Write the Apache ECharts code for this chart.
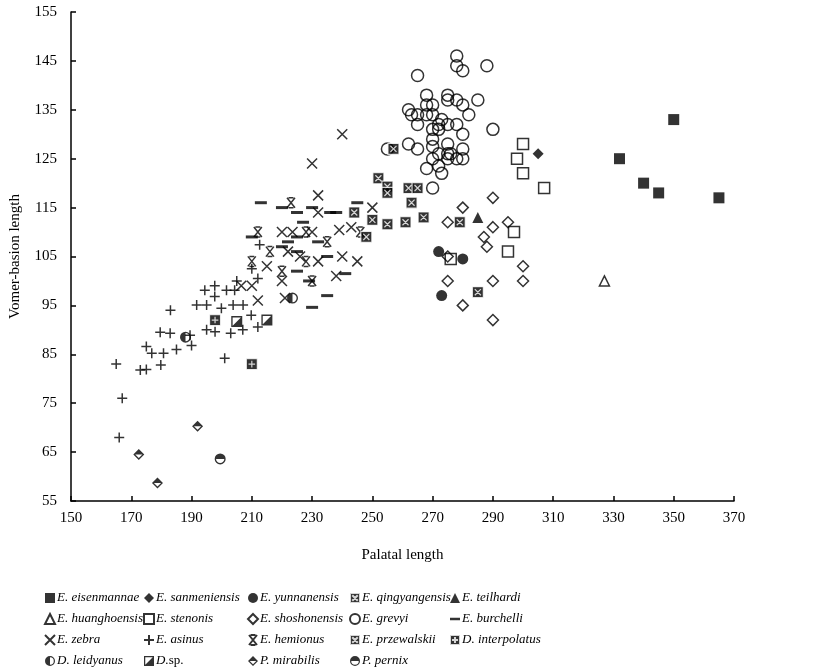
<!DOCTYPE html>
<html>
<head>
<meta charset="utf-8">
<script src="https://cdn.jsdelivr.net/npm/echarts@6/dist/echarts.min.js"></script>
<style>
html, body { margin: 0; padding: 0; background: #fff; }
#main { width: 829px; height: 672px; }
</style>
</head>
<body>
<div id="main"></div>
<script>
// values: [palatal length, vomer-basion length]
var eisenmannae = [[332, 125], [340, 120], [345, 118], [350, 133], [365, 117]];
var sanmeniensis = [[305, 126]];
var yunnanensis = [[272, 106], [280, 104.5], [273, 97]];
var qingyangensis = [[279, 112], [285, 97.7], [263, 116]];
var teilhardi = [[285, 113]];
var huanghoensis = [[327, 100]];
var stenonis = [[300, 128], [298, 125], [300, 122], [307, 119], [297, 110], [295, 106], [276, 104.5]];
var shoshonensis = [[290, 117], [280, 115], [275, 112], [290, 111], [295, 112], [287, 109], [288, 107],
    [275, 105], [300, 103], [275, 100], [290, 100], [300, 100], [280, 95], [290, 92]];
var grevyi = [[278, 146], [278, 144], [280, 143], [288, 144], [265, 142], [268, 138], [275, 138], [275, 137],
    [278, 137], [280, 136], [285, 137], [262, 135], [263, 134], [265, 134], [268, 136], [268, 134], [270, 136],
    [270, 134], [282, 134], [273, 133], [272, 132], [275, 132], [278, 132], [265, 132], [270, 131], [272, 131],
    [280, 130], [290, 131], [270, 129], [275, 128], [262, 128], [265, 127], [270, 127.5], [280, 127], [272, 126],
    [275, 126], [276, 126], [278, 125], [280, 125], [270, 125], [275, 125], [268, 123], [272, 123.5], [273, 122],
    [270, 119], [255, 127]];
var burchelli = [[213, 116], [245, 116], [220, 115], [230, 115], [236, 114], [238, 114], [225, 114], [227, 112],
    [210, 109], [222, 108], [225, 109], [232, 108], [220, 107], [225, 106], [235, 105], [241, 101.5], [225, 102],
    [229, 100], [235, 97], [230, 94.6]];
var zebra = [[240, 130], [230, 124], [232, 117.5], [250, 115], [232, 114], [239, 110.4], [243, 111], [220, 110],
    [223.5, 110], [230, 110], [222, 106], [232, 104], [240, 105], [245, 104], [215, 103], [238, 101], [220, 100],
    [206.5, 99], [210, 99], [212, 96], [221, 96.5], [226, 105]];
var asinus = [[165, 83], [167, 76], [166, 68], [173, 81.8], [175, 81.9], [179.8, 82.8], [175, 86.6], [176.8, 85.2],
    [180.7, 85.2], [185, 86], [190, 86.8], [179.6, 89.5], [182.9, 89.3], [189.5, 88.9], [195, 90], [197.8, 89.6],
    [203, 89.3], [207, 90], [212, 90.6], [201, 84.2], [183, 94], [191.7, 95.1], [195, 95.1], [199.9, 94.4],
    [203.8, 95.1], [207.1, 95.1], [209.8, 93], [194.4, 98.1], [197.7, 99], [197.7, 96.8], [201.6, 98.1],
    [204.3, 98.1], [205, 100], [212, 100.5], [210, 102.5], [212.6, 107.4]];
var hemionus = [[223, 116], [212, 110], [246, 110], [235, 108], [216, 106], [228, 104], [210, 104], [220, 102],
    [230, 100], [228, 110]];
var przewalskii = [[252, 121], [255, 119.3], [255, 118], [262, 119], [265, 119], [267, 113], [261, 112],
    [255, 111.6], [244, 114], [250, 112.5], [248, 109], [257, 127]];
var interpolatus = [[197.8, 92], [210, 83]];
var leidyanus = [[223.5, 96.5], [188, 88.5]];
var dsp = [[205, 91.7], [215, 92]];
var mirabilis = [[192, 70.3], [172.5, 64.5], [178.7, 58.7]];
var pernix = [[199.5, 63.6]];

var xTicks = [150, 370, 20];
var yTicks = [55, 155, 10];

// marker shapes
var pX = 'path://M0 0 L20 20 M20 0 L0 20';
var pPlus = 'path://M10 0 V20 M0 10 H20';
var pHemi = 'path://M5 0 H15 M5 20 H15 M2 0 L18 20 M18 0 L2 20';
var pDash = 'path://M0 0 H20 V5 H0 Z';
var pSqX = 'path://M0 0 H20 V20 H0 Z M4.5 4.5 L15.5 15.5 M15.5 4.5 L4.5 15.5';
var pSqPlus = 'path://M0 0 H20 V20 H0 Z M10 4 V16 M4 10 H16';
var pSqHalf = 'path://M0 0 H20 V20 H0 Z M2.5 2.5 V17.5 H17.5 V2.5 Z M17.5 2.5 V17.5 H2.5 Z';
var pCircLeft = 'path://M10 0 A10 10 0 1 1 10 20 A10 10 0 1 1 10 0 Z M10 2.5 A7.5 7.5 0 1 0 10 17.5 A7.5 7.5 0 1 0 10 2.5 Z M10 2.5 A7.5 7.5 0 0 0 10 17.5 Z';
var pCircTop = 'path://M10 0 A10 10 0 1 1 10 20 A10 10 0 1 1 10 0 Z M10 2.5 A7.5 7.5 0 1 0 10 17.5 A7.5 7.5 0 1 0 10 2.5 Z M2.5 10 A7.5 7.5 0 0 1 17.5 10 Z';
var pDiaTop = 'path://M10 0 L20 10 L10 20 L0 10 Z M10 3.5 L3.5 10 L10 16.5 L16.5 10 Z M10 3.5 L16.5 10 L3.5 10 Z';

var filled = {color: '#000'};
var open = {color: 'rgba(255,255,255,0)', borderColor: '#000', borderWidth: 1.5};
var lined = {color: '#000', borderColor: '#000', borderWidth: 1.5};
var boxed = {color: '#000', borderColor: '#fff', borderWidth: 1.2};

function s(name, data, symbol, size, style) {
    return {
        name: name, type: 'scatter', data: data, symbol: symbol, symbolSize: size,
        symbolKeepAspect: true, itemStyle: style, emphasis: {disabled: true}
    };
}

var series = [
    s('E. eisenmannae', eisenmannae, 'rect', 11, filled),
    s('E. sanmeniensis', sanmeniensis, 'diamond', 11, filled),
    s('E. yunnanensis', yunnanensis, 'circle', 11, filled),
    s('E. qingyangensis', qingyangensis, pSqX, 11, boxed),
    s('E. teilhardi', teilhardi, 'triangle', 11, filled),
    s('E. huanghoensis', huanghoensis, 'triangle', 10, open),
    s('E. stenonis', stenonis, 'rect', 11, open),
    s('E. shoshonensis', shoshonensis, 'diamond', 11, open),
    s('E. grevyi', grevyi, 'circle', 12, open),
    s('E. burchelli', burchelli, pDash, 12, filled),
    s('E. zebra', zebra, pX, 10, lined),
    s('E. asinus', asinus, pPlus, 10, lined),
    s('E. hemionus', hemionus, pHemi, 10, lined),
    s('E. przewalskii', przewalskii, pSqX, 11, boxed),
    s('D. interpolatus', interpolatus, pSqPlus, 11, boxed),
    s('D. leidyanus', leidyanus, pCircLeft, 11, filled),
    s('D. sp.', dsp, pSqHalf, 11, filled),
    s('P. mirabilis', mirabilis, pDiaTop, 11, filled),
    s('P. pernix', pernix, pCircTop, 11, filled)
];

var columns = [
    ['E. eisenmannae', 'E. huanghoensis', 'E. zebra', 'D. leidyanus'],
    ['E. sanmeniensis', 'E. stenonis', 'E. asinus', 'D. sp.'],
    ['E. yunnanensis', 'E. shoshonensis', 'E. hemionus', 'P. mirabilis'],
    ['E. qingyangensis', 'E. grevyi', 'E. przewalskii', 'P. pernix'],
    ['E. teilhardi', 'E. burchelli', 'D. interpolatus']
];
var colLeft = [44, 143, 247, 349, 449];

var serif = '"Liberation Serif", "Times New Roman", serif';

var legends = columns.map(function (names, i) {
    return {
        data: names, orient: 'vertical', left: colLeft[i], top: 591, padding: 0,
        itemWidth: 10, itemHeight: 10, itemGap: 7, selectedMode: false,
        formatter: function (n) { return n === 'D. sp.' ? '{i|D.}{n|sp.}' : '{i|' + n + '}'; },
        textStyle: {
            fontFamily: serif, fontSize: 13, color: '#000', padding: [0, 0, 0, -3], lineHeight: 14,
            rich: {
                i: {fontFamily: serif, fontSize: 13, fontStyle: 'italic', color: '#000'},
                n: {fontFamily: serif, fontSize: 13, fontStyle: 'normal', color: '#000'}
            }
        }
    };
});

var chart = echarts.init(document.getElementById('main'), null, {renderer: 'canvas'});
chart.setOption({
    animation: false,
    backgroundColor: '#fff',
    grid: {left: 67, right: 95, top: 12, bottom: 171},
    legend: legends,
    xAxis: {
        type: 'value', min: xTicks[0], max: xTicks[1], interval: xTicks[2],
        name: 'Palatal length', nameLocation: 'middle', nameGap: 47,
        nameTextStyle: {fontFamily: serif, fontSize: 15, color: '#000'},
        axisLine: {lineStyle: {color: '#000', width: 1.5}},
        axisTick: {inside: true, length: 5, lineStyle: {color: '#000', width: 1.5}},
        axisLabel: {fontFamily: serif, fontSize: 15, color: '#000', margin: 10},
        splitLine: {show: false}
    },
    yAxis: {
        type: 'value', min: yTicks[0], max: yTicks[1], interval: yTicks[2],
        name: 'Vomer-basion length', nameLocation: 'middle', nameGap: 48,
        nameTextStyle: {fontFamily: serif, fontSize: 15, color: '#000'},
        axisLine: {show: true, lineStyle: {color: '#000', width: 1.5}},
        axisTick: {show: true, inside: true, length: 5, lineStyle: {color: '#000', width: 1.5}},
        axisLabel: {fontFamily: serif, fontSize: 15, color: '#000', margin: 14},
        splitLine: {show: false}
    },
    series: series
});
</script>
</body>
</html>
